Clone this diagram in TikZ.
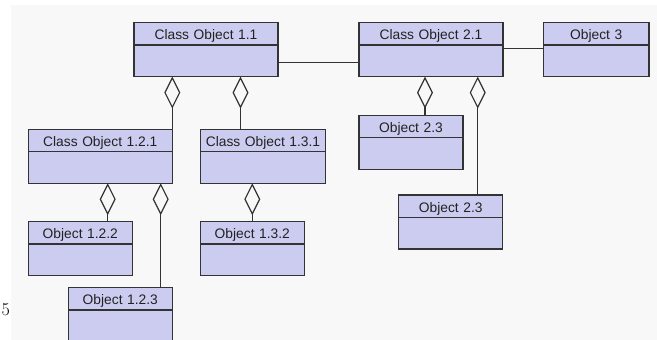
\documentclass[tikz,border=0pt]{standalone}
\usepackage{fontspec}
\newfontfamily\umlfont{Liberation Sans}
\usetikzlibrary{shapes.multipart}
\usetikzlibrary{arrows.meta}
\definecolor{boxfill}{RGB}{204,204,240}
\definecolor{boxline}{RGB}{51,51,51}
\definecolor{bggray}{RGB}{248,248,248}
\definecolor{txtgray}{RGB}{34,34,34}
\tikzset{
    umlbox/.style = {rectangle split, rectangle split parts=2, rectangle split draw splits,
        draw=boxline, line width=1.2pt, fill=boxfill, anchor=north west, outer sep=0pt,
        inner xsep=0pt, inner ysep=0pt, align=center, text=txtgray,
        font=\umlfont\fontsize{13.8}{16}\selectfont,
        rectangle split empty part height=30.5pt, rectangle split empty part depth=0pt,
        execute at begin node={\rule[-4.5pt]{0pt}{21pt}}},
    clsnode/.style = {umlbox, text width=144pt},
    objnode/.style = {umlbox, text width=104pt},
    edgen/.style = {line width=1.2pt, draw=boxline},
    edgea/.style = {line width=1.2pt, draw=boxline, {Diamond[open,length=32pt,width=16pt]}-}, % aggregation
}
\begin{document}
\begin{tikzpicture}[x=1pt,y=-1pt]
\useasboundingbox (0,0) rectangle (657,340);
\fill[bggray] (11,5) rectangle (657,340);
\node[font=\fontsize{18}{18}\selectfont, inner sep=0pt, anchor=base west] at (1.5,315) (pg) {5};
%
\node[clsnode] at (134,22.7) (c11) {Class Object 1.1};
\node[clsnode] at (359,22.7) (c21) {Class Object 2.1};
\node[umlbox, text width=105.5pt] at (543.5,22.7) (o3) {Object 3};
\node[clsnode] at (28.3,129.3) (c121) {Class Object 1.2.1};
\node[umlbox, text width=125pt] at (200.5,129.3) (c131) {Class Object 1.3.1};
\node[objnode] at (28.3,221.7) (o122) {Object 1.2.2};
\node[objnode] at (68.3,287.7) (o123) {Object 1.2.3};
\node[objnode] at (200.3,221.7) (o132) {Object 1.3.2};
\node[objnode] at (359,115.3) (o23a) {Object 2.3};
\node[objnode] at (398.7,195) (o23b) {Object 2.3};
%
\draw[edgen] ([yshift=-40pt]c11.north east) -- ([yshift=-40pt]c21.north west);
\draw[edgen] ([yshift=-26pt]c21.north east) -- ([yshift=-26pt]o3.north west);
\draw[edgea] (c121.north east |- c11.south) -- (c121.north east);
\draw[edgea] ([xshift=40pt]c131.north west |- c11.south) -- ([xshift=40pt]c131.north west);
\draw[edgea] ([xshift=79.4pt]o122.north west |- c121.south) -- ([xshift=79.4pt]o122.north west);
\draw[edgea] ([xshift=92.4pt]o123.north west |- c121.south) -- ([xshift=92.4pt]o123.north west);
\draw[edgea] (o132.north |- c131.south) -- (o132.north);
\draw[edgea] ([xshift=66pt]o23a.north west |- c21.south) -- ([xshift=66pt]o23a.north west);
\draw[edgea] ([xshift=79pt]o23b.north west |- c21.south) -- ([xshift=79pt]o23b.north west);

\end{tikzpicture}
\end{document}
